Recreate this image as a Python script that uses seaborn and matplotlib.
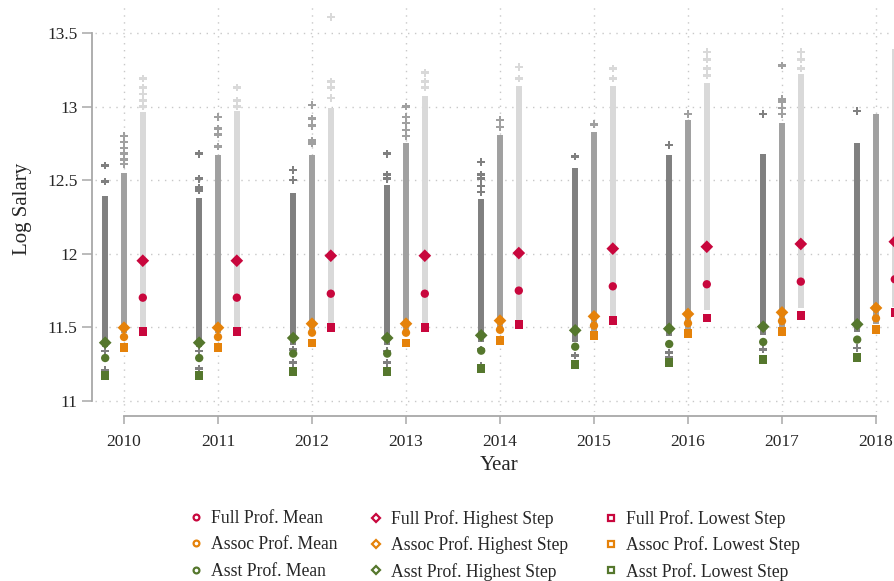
import matplotlib
matplotlib.use("Agg")
import numpy as np
import pandas as pd
import matplotlib.pyplot as plt
from matplotlib.lines import Line2D
import seaborn as sns

years = [2010, 2011, 2012, 2013, 2014, 2015, 2016, 2017, 2018]
ranks = ["Asst", "Assoc", "Full"]

# individual log salaries: dense band per year (low/high) plus stray points
asst_band_lo = [11.37, 11.37, 11.38, 11.38, 11.40, 11.40, 11.44, 11.45, 11.47]
asst_band_hi = [12.39, 12.38, 12.41, 12.47, 12.37, 12.58, 12.67, 12.68, 12.75]
assoc_band_lo = [11.46, 11.46, 11.47, 11.47, 11.49, 11.46, 11.48, 11.49, 11.52]
assoc_band_hi = [12.55, 12.67, 12.67, 12.75, 12.81, 12.83, 12.91, 12.89, 12.95]
full_band_lo = [11.49, 11.49, 11.51, 11.51, 11.55, 11.58, 11.62, 11.63, 11.64]
full_band_hi = [12.96, 12.97, 12.99, 13.07, 13.14, 13.14, 13.16, 13.22, 13.39]

asst_stray = {
    2010: [12.60, 12.49, 11.34, 11.21],
    2011: [12.68, 12.51, 12.45, 12.43, 11.34, 11.22],
    2012: [12.57, 12.50, 11.35, 11.26],
    2013: [12.68, 12.54, 12.51, 11.34, 11.26],
    2014: [12.625, 12.54, 12.51, 12.46, 12.42, 11.35, 11.24],
    2015: [12.66, 11.31],
    2016: [12.74, 11.33, 11.30],
    2017: [12.95, 11.35],
    2018: [12.97, 11.36],
}
assoc_stray = {
    2010: [12.80, 12.76, 12.72, 12.68, 12.64, 12.61],
    2011: [12.93, 12.85, 12.81, 12.73],
    2012: [13.01, 12.92, 12.87, 12.77, 12.75],
    2013: [13.00, 12.93, 12.89, 12.84, 12.80],
    2014: [12.91, 12.86],
    2015: [12.88],
    2016: [12.95],
    2017: [13.28, 13.05, 13.03, 12.99, 12.95],
    2018: [],
}
full_stray = {
    2010: [13.19, 13.13, 13.085, 13.04, 13.00],
    2011: [13.13, 13.04, 13.00],
    2012: [13.61, 13.17, 13.13, 13.06],
    2013: [13.23, 13.17, 13.13],
    2014: [13.27, 13.19],
    2015: [13.26, 13.19],
    2016: [13.37, 13.32, 13.26, 13.21],
    2017: [13.37, 13.32, 13.26],
    2018: [],
}

# salary scale summary values
full_mean = [11.702, 11.702, 11.729, 11.729, 11.750, 11.779, 11.793, 11.811, 11.827]
full_high = [11.953, 11.953, 11.987, 11.987, 12.005, 12.035, 12.048, 12.067, 12.082]
full_low = [11.471, 11.471, 11.498, 11.498, 11.519, 11.546, 11.564, 11.580, 11.600]
assoc_mean = [11.435, 11.435, 11.464, 11.464, 11.484, 11.512, 11.528, 11.543, 11.562]
assoc_high = [11.498, 11.498, 11.525, 11.525, 11.546, 11.575, 11.591, 11.602, 11.632]
assoc_low = [11.362, 11.362, 11.394, 11.394, 11.412, 11.444, 11.457, 11.471, 11.487]
asst_mean = [11.292, 11.292, 11.322, 11.322, 11.342, 11.369, 11.387, 11.401, 11.417]
asst_high = [11.396, 11.396, 11.428, 11.428, 11.446, 11.480, 11.491, 11.505, 11.521]
asst_low = [11.172, 11.172, 11.199, 11.199, 11.220, 11.247, 11.263, 11.281, 11.294]

offset = {"Asst": -0.2, "Assoc": 0.0, "Full": 0.2}
gray = {"Asst": "#808080", "Assoc": "#a0a0a0", "Full": "#d9d9d9"}
accent = {"Full": "#c8073d", "Assoc": "#e5820a", "Asst": "#55772d"}
stat_marker = {"Mean": "o", "Highest Step": "D", "Lowest Step": "s"}

sns.set_style("white")
plt.rcParams["font.family"] = ["Liberation Serif", "DejaVu Serif"]

fig = plt.figure(figsize=(8.94, 5.81), dpi=100)
W, H = 894, 581
ax = fig.add_axes([95 / W, 1 - 412 / H, (900 - 95) / W, (412 - 5) / H])
ax.set_xlim(2010 - 29 / 94, 2010 + (900 - 124) / 94)
ax.set_ylim(11 - 11 / 147.2, 13.5 + 28 / 147.2)

# gray salary clouds
bands = {"Asst": (asst_band_lo, asst_band_hi),
         "Assoc": (assoc_band_lo, assoc_band_hi),
         "Full": (full_band_lo, full_band_hi)}
for r in ranks:
    xs = np.array(years) + offset[r]
    ax.vlines(xs, bands[r][0], bands[r][1], colors=gray[r], linewidth=4.3,
              zorder=2)

rows = []
for r, d in [("Asst", asst_stray), ("Assoc", assoc_stray), ("Full", full_stray)]:
    for y in years:
        for v in d[y]:
            rows.append({"rank": r, "x": y + offset[r], "v": v})
stray = pd.DataFrame(rows)
sns.scatterplot(data=stray, x="x", y="v", hue="rank", palette=gray,
                marker="P", s=30, linewidth=0, legend=False, ax=ax, zorder=3)

# summary markers
stats = {("Full", "Mean"): full_mean, ("Full", "Highest Step"): full_high,
         ("Full", "Lowest Step"): full_low,
         ("Assoc", "Mean"): assoc_mean, ("Assoc", "Highest Step"): assoc_high,
         ("Assoc", "Lowest Step"): assoc_low,
         ("Asst", "Mean"): asst_mean, ("Asst", "Highest Step"): asst_high,
         ("Asst", "Lowest Step"): asst_low}
srows = []
for (r, s), vals in stats.items():
    for y, v in zip(years, vals):
        srows.append({"rank": r, "stat": s, "x": y + offset[r], "v": v})
sdf = pd.DataFrame(srows)
sns.scatterplot(data=sdf, x="x", y="v", hue="rank", palette=accent,
                style="stat", markers=stat_marker, size="stat",
                sizes={"Mean": 36, "Highest Step": 42, "Lowest Step": 38},
                linewidth=0, legend=False, ax=ax, zorder=4)

# axes styling
ax.set_yticks([11, 11.5, 12, 12.5, 13, 13.5])
ax.set_yticklabels(["11", "11.5", "12", "12.5", "13", "13.5"])
ax.set_xticks(years)
ax.set_xticklabels([str(y) for y in years])
ax.grid(True, color="#c8c8c8", linestyle=(0, (1, 4)), linewidth=1)
ax.set_axisbelow(True)
for side in ["top", "right"]:
    ax.spines[side].set_visible(False)
ax.spines["left"].set_position(("outward", 2.5))
ax.spines["bottom"].set_position(("outward", 3))
ax.spines["left"].set_bounds(11, 13.5)
ax.spines["bottom"].set_bounds(2010, 2018)
for side in ["left", "bottom"]:
    ax.spines[side].set_color("#a8a8a8")
    ax.spines[side].set_linewidth(1.3)
ax.tick_params(axis="y", length=7, width=1.1, color="#a8a8a8", pad=3,
               labelsize=12.5, left=True)
ax.tick_params(axis="x", length=5.5, width=1.1, color="#a8a8a8", pad=7,
               labelsize=12.5, bottom=True)

ax.set_xlabel("Year", fontsize=15)
ax.set_ylabel("Log Salary", fontsize=15)
ax.xaxis.set_label_coords((499 - 95) / 805, -(456 - 412) / 407)
ax.yaxis.set_label_coords(-(95 - 32) / 805, 0.5)

# legend: three columns (mean / highest / lowest)
col_x = [189, 369, 604]
col_gap = [0.53, 0.48, 0.48]
for cx, gap, s in zip(col_x, col_gap, ["Mean", "Highest Step", "Lowest Step"]):
    handles = []
    for r in ["Full", "Assoc", "Asst"]:
        handles.append(Line2D([], [], linestyle="none", marker=stat_marker[s],
                              markersize=4.2, markerfacecolor="white",
                              markeredgecolor=accent[r], markeredgewidth=1.6,
                              label=f"{r} Prof. {s}"))
    fig.legend(handles=handles, loc="upper left",
               bbox_to_anchor=(cx / W, 1 - 510 / H), frameon=False,
               fontsize=12.7, handlelength=0.8, handletextpad=0.45,
               borderpad=0, borderaxespad=0, labelspacing=gap)

fig.savefig("out.png", dpi=100)
